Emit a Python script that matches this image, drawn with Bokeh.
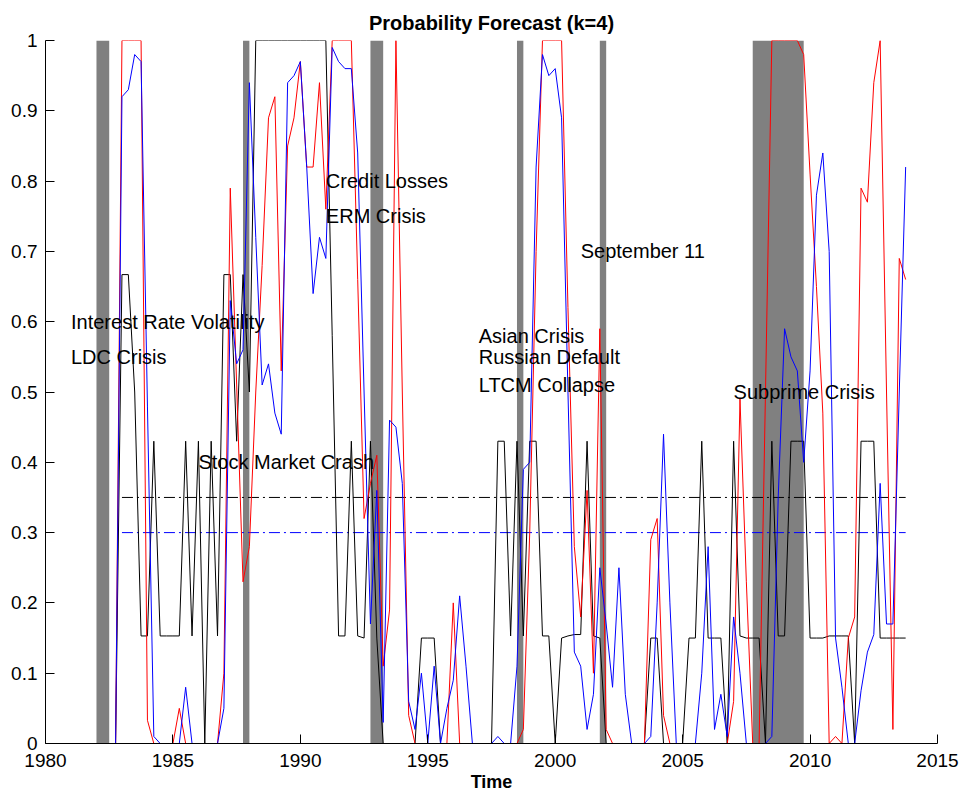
import numpy as np
from bokeh.plotting import figure
from bokeh.models import FixedTicker, Range1d, CustomJSTickFormatter
from bokeh.embed import file_html
from bokeh.resources import INLINE
from bokeh.core.properties import value

# quarterly time axis
time = np.arange(1982.0, 2014.0, 0.25)

red = [0, 0, 0, 0,
       1, 1, 1, 1,
       0.033, 0, 0, 0,
       0, 0.05, 0, 0,
       0, 0, 0, 0,
       0.1, 0.79, 0.51, 0.23,
       0.28, 0.5, 0.68, 0.89,
       0.92, 0.53, 0.85, 0.89,
       0.97, 0.82, 0.82, 0.94,
       0.76, 1, 1, 1,
       1, 0.66, 0.32, 0.37,
       0.41, 0.11, 0.19, 1.0,
       0.5, 0.04, 0, 0,
       0, 0, 0, 0,
       0.2, 0, 0, 0,
       0, 0, 0, 0,
       0, 0, 0, 0.02,
       0.3, 0.7, 1, 1,
       1, 1, 0.62, 0.28,
       0.18, 0.36, 0.1, 0.59,
       0.02, 0, 0, 0,
       0, 0, 0, 0.29,
       0.32, 0.04, 0, 0,
       0, 0, 0, 0,
       0, 0, 0, 0,
       0.06, 0.49, 0.23, 0,
       0, 0.5, 1, 1,
       1, 1, 1, 0.98,
       0.81, 0.65, 0.47, 0,
       0.01, 0, 0.15, 0.18,
       0.79, 0.77, 0.94, 1,
       0.5, 0.02, 0.69, 0.66]

blue = [0, 0, 0, 0,
        0.92, 0.93, 0.98, 0.97,
        0.48, 0.01, 0, 0,
        0, 0, 0.08, 0,
        0, 0, 0, 0,
        0.05, 0.63, 0.54, 0.56,
        0.94, 0.72, 0.51, 0.54,
        0.47, 0.44, 0.94, 0.95,
        0.97, 0.82, 0.64, 0.72,
        0.69, 0.99, 0.97, 0.96,
        0.96, 0.84, 0.5, 0.17,
        0.36, 0.03, 0.46, 0.45,
        0.37, 0.06, 0.02, 0.1,
        0, 0.11, 0, 0.05,
        0.09, 0.21, 0.11, 0,
        0, 0, 0, 0.01,
        0, 0, 0.11, 0.39,
        0.4, 0.82, 0.98, 0.95,
        0.96, 0.89, 0.5, 0.13,
        0.11, 0.02, 0.07, 0.25,
        0.17, 0.08, 0.25, 0.07,
        0, 0, 0, 0.01,
        0.2, 0.44, 0.2, 0,
        0, 0, 0, 0.1,
        0.28, 0.02, 0.07, 0.01,
        0.18, 0.1, 0, 0,
        0, 0, 0.01, 0.35,
        0.59, 0.55, 0.53, 0.40,
        0.53, 0.78, 0.84, 0.70,
        0.15, 0.08, 0, 0,
        0.075, 0.13, 0.155, 0.37,
        0.17, 0.17, 0.5, 0.82]

black = [0, 0, 0, 0,
         0.667, 0.667, 0.5, 0.153,
         0.153, 0.43, 0.153, 0.153,
         0.153, 0.153, 0.43, 0.153,
         0.43, 0, 0.43, 0.153,
         0.667, 0.667, 0.43, 0.667,
         0.5, 1, 1, 1,
         1, 1, 1, 1,
         1, 1, 1, 1,
         1, 0.58, 0.153, 0.153,
         0.43, 0.153, 0.15, 0.43,
         0.15, 0, 0, 0,
         0, 0, 0, 0.15,
         0.15, 0.15, 0, 0,
         0, 0, 0, 0,
         0, 0, 0, 0.43,
         0.43, 0.153, 0.43, 0.153,
         0.43, 0.43, 0.153, 0.153,
         0, 0.15, 0.153, 0.155,
         0.155, 0.43, 0.153, 0.15,
         0, 0, 0, 0,
         0, 0, 0, 0.15,
         0.15, 0, 0, 0,
         0, 0.15, 0.15, 0.43,
         0.15, 0.15, 0.15, 0,
         0.43, 0.153, 0.15, 0.15,
         0.15, 0, 0.43, 0.153,
         0.153, 0.43, 0.43, 0.43,
         0.15, 0.15, 0.15, 0.153,
         0.153, 0.153, 0.153, 0,
         0.43, 0.43, 0.43, 0.15,
         0.15, 0.15, 0.15, 0.15]

crisis_start = [1982.0, 1987.75, 1992.75, 1998.5, 2001.75, 2007.75]
crisis_end = [1982.5, 1988.0, 1993.25, 1998.75, 2002.0, 2009.75]

event_labels = ["Interest Rate Volatility", "LDC Crisis", "Stock Market Crash",
                "Credit Losses", "ERM Crisis", "Asian Crisis", "Russian Default",
                "LTCM Collapse", "September 11", "Subprime Crisis"]
event_x = [1981.0, 1981.0, 1986.0, 1991.0, 1991.0, 1997.0, 1997.0, 1997.0, 2001.0, 2007.0]
event_y = [0.60, 0.55, 0.40, 0.80, 0.75, 0.58, 0.55, 0.51, 0.70, 0.50]

threshold_years = [1983.0, 2013.75]
threshold_black = [0.35, 0.35]
threshold_blue = [0.3, 0.3]

x_ticks = [1980, 1985, 1990, 1995, 2000, 2005, 2010, 2015]
y_ticks = [0, 0.1, 0.2, 0.3, 0.4, 0.5, 0.6, 0.7, 0.8, 0.9, 1]

FONT = "Liberation Sans"

p = figure(width=960, height=794, x_range=Range1d(1980, 2015), y_range=Range1d(0, 1),
           output_backend="svg", toolbar_location=None,
           min_border_left=45, min_border_right=23, min_border_top=40, min_border_bottom=51,
           title="Probability Forecast (k=4)")
p.outline_line_color = None
p.grid.visible = False
p.background_fill_color = "white"
p.border_fill_color = "white"

p.title.text_font = FONT
p.title.text_font_size = "20px"
p.title.text_font_style = "bold"
p.title.text_color = "black"
p.title.align = "center"
p.title.vertical_align = "top"
p.title.standoff = 10

p.quad(left=crisis_start, right=crisis_end, bottom=0, top=1,
       fill_color="#808080", line_color=None)

p.line(threshold_years, threshold_black, line_color="black", line_width=1, line_dash="11 4 2 4")
p.line(threshold_years, threshold_blue, line_color="#0000ff", line_width=1, line_dash="11 4 2 4")

p.line(time, black, line_color="black", line_width=1)
p.line(time, red, line_color="red", line_width=1)
p.line(time, blue, line_color="blue", line_width=1)

p.text(x=event_x, y=event_y, text=event_labels, text_font=value(FONT),
       text_font_size="20px", text_baseline="middle", text_align="left", text_color="black")

for ax in (p.xaxis[0], p.yaxis[0]):
    ax.axis_line_color = "black"
    ax.major_tick_line_color = "black"
    ax.major_tick_in = 9
    ax.major_tick_out = 0
    ax.minor_tick_line_color = None
    ax.major_label_text_font = FONT
    ax.major_label_text_font_size = "19px"
    ax.major_label_text_color = "black"

p.xaxis[0].ticker = FixedTicker(ticks=x_ticks)
p.yaxis[0].ticker = FixedTicker(ticks=y_ticks)
p.yaxis[0].formatter = CustomJSTickFormatter(code="return String(Math.round(tick*10)/10);")
p.xaxis[0].major_label_standoff = 10
p.yaxis[0].major_label_standoff = 8

p.xaxis[0].axis_label = "Time"
p.xaxis[0].axis_label_text_font = FONT
p.xaxis[0].axis_label_text_font_size = "18px"
p.xaxis[0].axis_label_text_font_style = "bold"
p.xaxis[0].axis_label_text_color = "black"
p.xaxis[0].axis_label_standoff = 2

open("out.html", "w").write(file_html(p, INLINE))
